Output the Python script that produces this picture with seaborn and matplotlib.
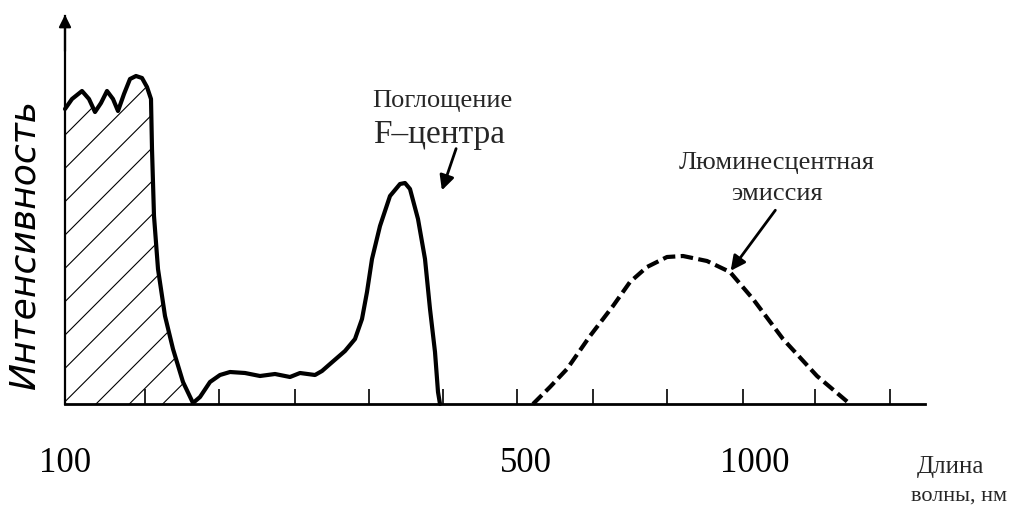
import matplotlib
matplotlib.use("Agg")
import matplotlib.pyplot as plt
import seaborn as sns
import numpy as np
import pandas as pd

# ---- data (positions along the wavelength axis, intensity in arbitrary units) ----
uv_x = [65, 72, 82, 89, 95, 101, 107, 113, 118, 124, 130, 136, 142, 147, 151, 152, 154, 158, 165, 173, 183, 193]
uv_y = [295, 305, 313, 305, 292, 301, 313, 305, 293, 310, 325, 328, 326, 317, 305, 255, 188, 135, 88, 55, 22, 1]

f_x = [193, 200, 210, 220, 230, 245, 260, 275, 290, 300, 315, 322, 330, 345, 355, 362, 367, 372, 380, 390, 400, 405, 410, 418, 425, 430, 435, 438, 440]
f_y = [1, 7, 22, 29, 32, 31, 28, 30, 27, 31, 29, 33, 40, 53, 65, 85, 112, 145, 178, 208, 220, 221, 215, 185, 145, 95, 52, 12, 0]

em_x = [533, 550, 567, 590, 613, 630, 647, 667, 683, 707, 730, 753, 783, 817, 850]
em_y = [0, 17, 35, 68, 98, 122, 137, 147, 148, 143, 132, 105, 65, 28, 0]

tick_pos = [65, 526, 755]
tick_labels = ["100", "500", "1000"]
minor_ticks = [145, 219, 295, 369, 443, 517, 593, 667, 743, 815, 890]

label_f = ["Поглощение", "F–центра"]
label_em = ["Люминесцентная", "эмиссия"]
ylabel = "Интенсивность"
xlabel = ["Длина", "волны, нм"]

sns.set_theme(style="white")
plt.rcParams["font.family"] = ["Liberation Serif", "DejaVu Serif"]
plt.rcParams["hatch.linewidth"] = 0.8
plt.rcParams["hatch.color"] = "black"

fig = plt.figure(figsize=(10.11, 5.06), dpi=100)
ax = fig.add_axes([0, 0, 1, 1])
ax.set_xlim(0, 1011)
ax.set_ylim(-101, 405)
ax.set_facecolor("white")

# hatched UV band
ax.fill_between(uv_x, uv_y, 0, facecolor="none", edgecolor="black", hatch="/", linewidth=0)

uv = pd.DataFrame({"x": uv_x, "y": uv_y})
fc = pd.DataFrame({"x": f_x, "y": f_y})
em = pd.DataFrame({"x": em_x, "y": em_y})
sns.lineplot(data=uv, x="x", y="y", ax=ax, color="black", linewidth=3, sort=False)
sns.lineplot(data=fc, x="x", y="y", ax=ax, color="black", linewidth=3, sort=False)
sns.lineplot(data=em, x="x", y="y", ax=ax, color="black", linewidth=3, sort=False)
ax.lines[-1].set_dashes([3, 1.3])
for ln in ax.lines:
    ln.set_solid_capstyle("round")

# axes as drawn
for s in ["top", "right"]:
    ax.spines[s].set_visible(False)
ax.spines["bottom"].set_position(("data", 0))
ax.spines["left"].set_position(("data", 65))
ax.spines["bottom"].set_bounds(65, 925)
ax.spines["left"].set_bounds(0, 388)
ax.spines["bottom"].set_linewidth(2)
ax.spines["left"].set_linewidth(1.6)
ax.spines["bottom"].set_color("black")
ax.spines["left"].set_color("black")
ax.annotate("", xy=(65, 392), xytext=(65, 350),
            arrowprops=dict(arrowstyle="-|>", color="black", lw=1.6, mutation_scale=18))

ax.set_yticks([])
ax.set_xticks(tick_pos)
ax.set_xticklabels(tick_labels, fontsize=25, family=["Liberation Serif"])
ax.set_xticks(minor_ticks, minor=True)
ax.tick_params(axis="x", which="major", length=0, pad=30, colors="black")
ax.tick_params(axis="x", which="minor", direction="in", length=11, width=1.2, color="black", bottom=True)
ax.set_xlabel("")
ax.set_ylabel("")

# y label
ax.text(25, 405 - 245, ylabel, rotation=90, ha="center", va="center", fontsize=26,
        style="italic", family=["DejaVu Sans"], color="black")

# x label
ax.text(950, 405 - 467, xlabel[0], ha="center", va="center", fontsize=18)
ax.text(1007, 405 - 496, xlabel[1], ha="right", va="center", fontsize=16)

# annotations
ax.text(442, 405 - 101, label_f[0], ha="center", va="center", fontsize=19)
ax.text(439, 405 - 135, label_f[1], ha="center", va="center", fontsize=24)
ax.annotate("", xy=(441, 405 - 194), xytext=(457, 405 - 147),
            arrowprops=dict(arrowstyle="-|>", color="black", lw=2, mutation_scale=22))

ax.text(777, 405 - 163, label_em[0], ha="center", va="center", fontsize=19)
ax.text(777, 405 - 194, label_em[1], ha="center", va="center", fontsize=19)
ax.annotate("", xy=(729, 405 - 274), xytext=(777, 405 - 209),
            arrowprops=dict(arrowstyle="-|>", color="black", lw=2, mutation_scale=22))

fig.savefig("out.png", dpi=100, facecolor="white")
